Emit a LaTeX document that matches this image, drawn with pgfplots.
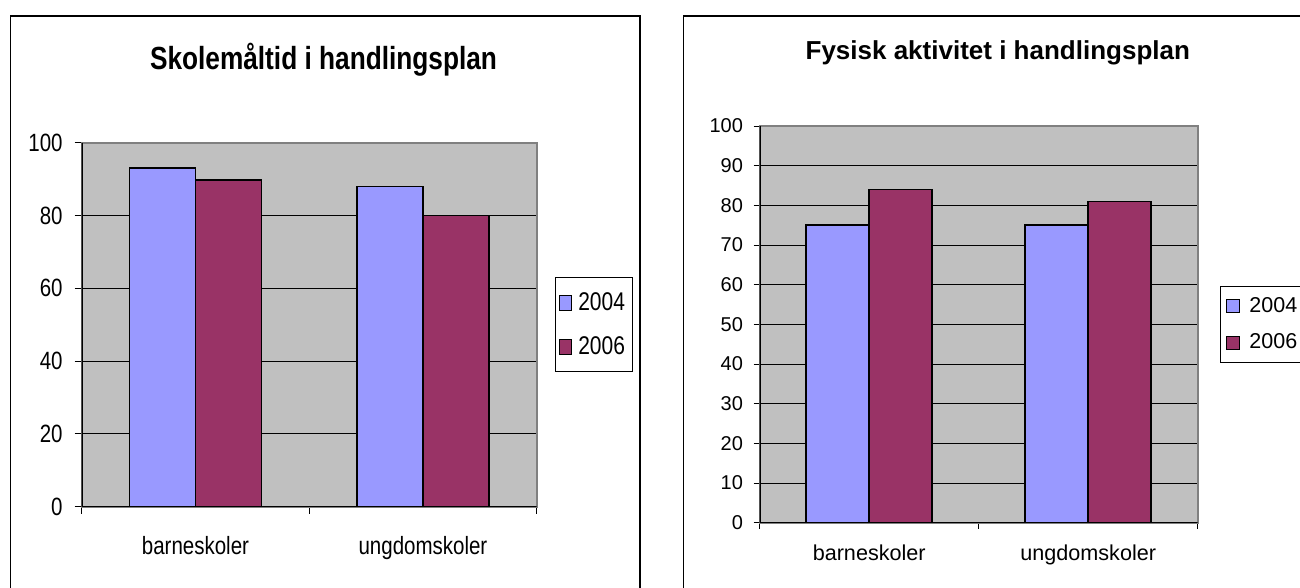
\documentclass[border=0pt]{standalone}
\usepackage{fontspec}
\setmainfont{Liberation Sans}
\newfontfamily\narrowfont[FakeStretch=0.82]{Liberation Sans}
\usepackage{pgfplots}
\pgfplotsset{compat=1.18}

\definecolor{bar04}{HTML}{9999FF}
\definecolor{bar06}{HTML}{993366}
\definecolor{plotbg}{HTML}{C0C0C0}
\definecolor{framegray}{HTML}{808080}

% shared look of both panels (old spreadsheet style)
\pgfplotsset{
  sheetbars/.style={
    scale only axis,
    ybar=0pt,
    ymin=0, ymax=100,
    xmin=-0.5, xmax=1.5,
    xtick={0,1},
    xticklabels={barneskoler,ungdomskoler},
    minor xtick={-0.5,0.5,1.5},
    tick pos=left,
    tick align=outside,
    major x tick style={draw=none},
    minor x tick style={black, line width=0.5pt},
    ytick style={black, line width=0.5pt},
    ymajorgrids,
    major grid style={black, line width=0.5pt},
    axis line style={framegray, line width=0.8pt},
    axis background/.style={fill=plotbg},
    /pgf/number format/assume math mode=true,
    legend cell align=left,
  },
}

\begin{document}
\begin{tikzpicture}
\useasboundingbox (0,0) rectangle (650pt,-294pt);

% outer chart frames
\draw[line width=0.6pt] (5.15pt,-300pt) -- (5.15pt,-8pt) -- (320pt,-8pt) -- (320pt,-300pt);
\draw[line width=0.6pt] (341.85pt,-300pt) -- (341.85pt,-8pt) -- (700pt,-8pt);

% ---- left: Skolemaltid
\begin{axis}[
  sheetbars,
  at={(40.85pt,-253.35pt)}, anchor=south west,
  width=227.5pt, height=182pt,
  bar width=33pt,
  ytick={0,20,...,100},
  major tick length=3.5pt, minor tick length=3.5pt,
  yticklabel style={font=\narrowfont\fontsize{12.5}{15}\selectfont, inner sep=0pt, xshift=-5.85pt},
  xticklabel style={font=\narrowfont\fontsize{12.5}{15}\selectfont, anchor=base, yshift=-20.25pt},
  legend style={at={(1,0.5)}, anchor=west, xshift=8.95pt, draw=black, line width=0.5pt,
    font=\narrowfont\fontsize{12.8}{15}\selectfont, row sep=7.5pt, column sep=1.2pt,
    inner ysep=5.25pt, inner xsep=1.8pt},
  legend image code/.code={\draw[#1, line width=0.6pt] (0pt,-3.75pt) rectangle (6pt,3.75pt);},
]
\addplot[fill=bar04, draw=black, line width=0.75pt] coordinates {(0,93) (1,88)};
\addlegendentry{2004}
\addplot[fill=bar06, draw=black, line width=0.75pt] coordinates {(0,89.7) (1,80)};
\addlegendentry{2006}
\draw[black, line width=0.8pt] (rel axis cs:0,1) -- (rel axis cs:0,0) -- (rel axis cs:1,0);
\end{axis}

% ---- right: Fysisk aktivitet
\begin{axis}[
  sheetbars,
  at={(379.85pt,-261.35pt)}, anchor=south west,
  width=219pt, height=198.35pt,
  bar width=31.5pt,
  ytick={0,10,...,100},
  major tick length=3pt, minor tick length=3pt,
  yticklabel style={font=\fontsize{10}{12}\selectfont, inner sep=0pt, xshift=-5.2pt},
  xticklabel style={font=\fontsize{10.8}{13}\selectfont, anchor=base, yshift=-15.65pt},
  legend style={at={(1,0.5)}, anchor=west, xshift=11pt, draw=black, line width=0.5pt,
    font=\fontsize{10.75}{13}\selectfont, row sep=5.35pt, column sep=2.5pt, inner ysep=3.3pt},
  legend image code/.code={\draw[#1, line width=0.6pt] (0pt,-3.25pt) rectangle (6.5pt,3.25pt);},
]
\addplot[fill=bar04, draw=black, line width=0.75pt] coordinates {(0,75) (1,75)};
\addlegendentry{2004}
\addplot[fill=bar06, draw=black, line width=0.75pt] coordinates {(0,84) (1,81)};
\addlegendentry{2006}
\draw[black, line width=0.8pt] (rel axis cs:0,1) -- (rel axis cs:0,0) -- (rel axis cs:1,0);
\end{axis}

% chart titles
\node[anchor=base, font=\narrowfont\bfseries\fontsize{16}{19}\selectfont] at (161.75pt,-35pt) {Skolemåltid i handlingsplan};
\node[anchor=base, font=\bfseries\fontsize{13}{15}\selectfont] at (498.9pt,-30pt) {Fysisk aktivitet i handlingsplan};
\end{tikzpicture}
\end{document}
